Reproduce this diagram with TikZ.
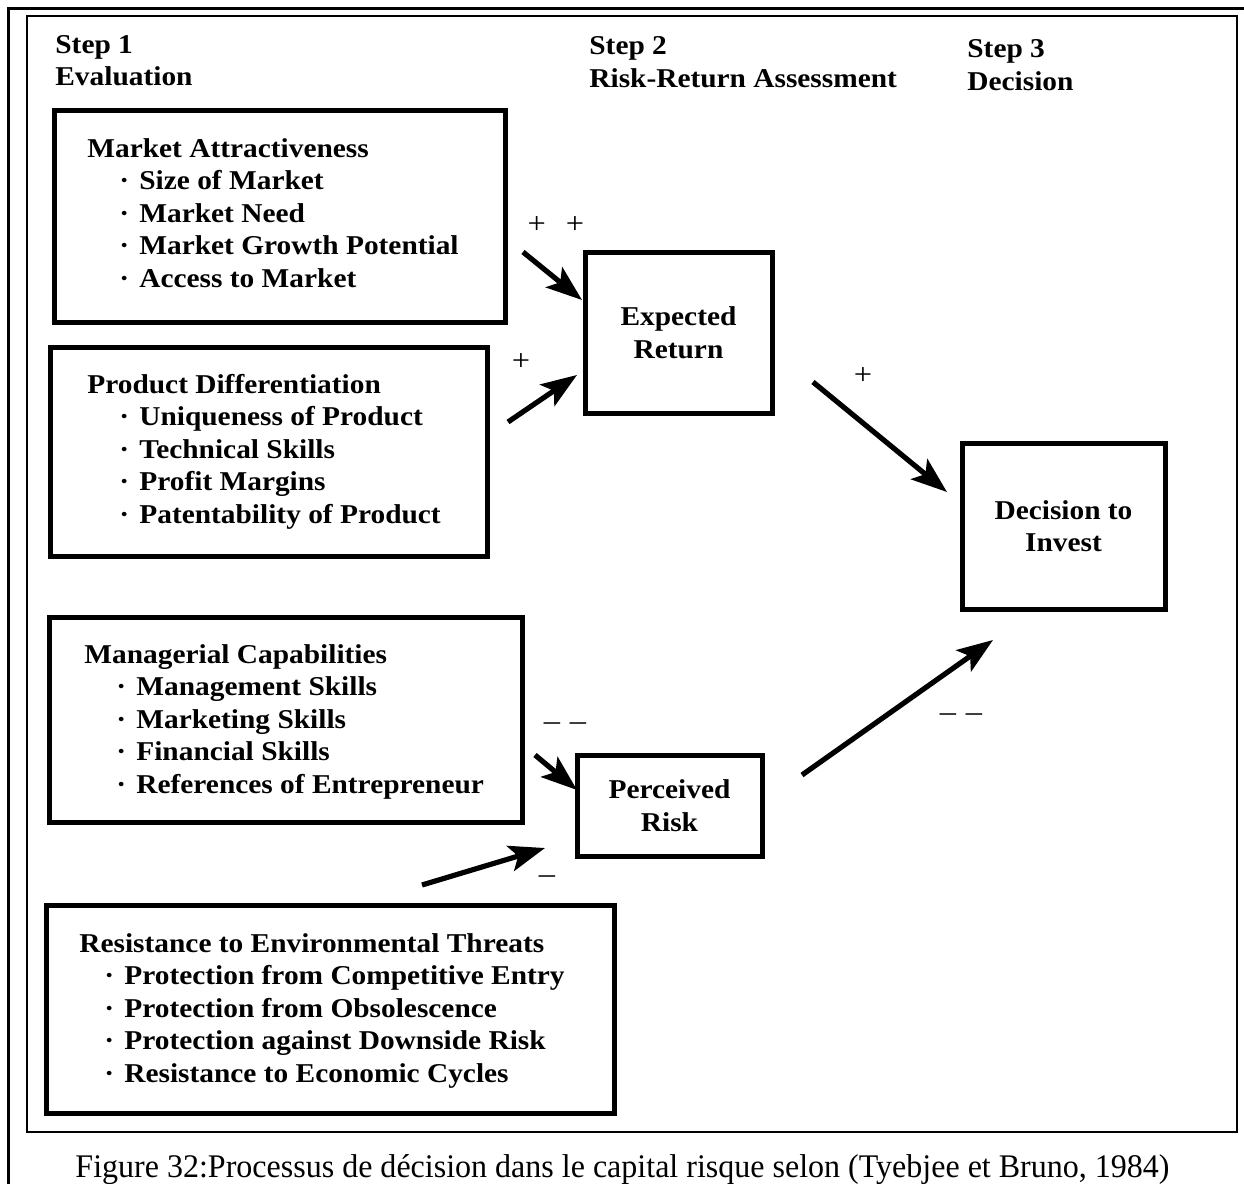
\documentclass[tikz,border=0pt]{standalone}
\usepackage{fontspec}
\usepackage{graphicx}
\setmainfont{Liberation Serif}
\newfontfamily\diagfont{Liberation Serif}[FakeStretch=1.08,Ligatures=TeX]
\usetikzlibrary{arrows.meta}
\newcommand\bul[1]{\hspace*{16pt}\makebox[10pt][l]{\textperiodcentered}#1}
\newcommand\bulr[1]{\hspace*{12.5pt}\makebox[10pt][l]{\textperiodcentered}#1}
\begin{document}
\begin{tikzpicture}[x=0.5pt,y=-0.5pt,
  boxs/.style={draw,line width=2.5pt,inner sep=0pt},
  lbl/.style={font=\diagfont\bfseries\fontsize{13.6}{16.25}\selectfont,inner sep=0pt},
  clbl/.style={boxs,align=center,font=\diagfont\bfseries\fontsize{13.6}{16.25}\selectfont},
  sign/.style={font=\diagfont\fontsize{15}{16}\selectfont,inner sep=0pt},
  arr/.style={line width=2.6pt,-{Stealth[length=18pt,width=13pt,inset=4pt]}}]
\useasboundingbox (0,0) rectangle (1244,1184);
\fill[white] (0,0) rectangle (1244,1184);
% frames
\draw[line width=1.5pt] (1244,8) -- (8,8) -- (8,1184);
\draw[line width=1.2pt] (27,16) rectangle (1237,1132);

% headers
\node[lbl,anchor=base west] (s1a) at (55,53) {Step 1};
\node[lbl,anchor=base west] (s1b) at (55,85) {Evaluation};
\node[lbl,anchor=base west] (s2a) at (589,54) {Step 2};
\node[lbl,anchor=base west] (s2b) at (589,87) {Risk-Return Assessment};
\node[lbl,anchor=base west] (s3a) at (967,57) {Step 3};
\node[lbl,anchor=base west] (s3b) at (967,90) {Decision};

% left boxes
\node[boxs,minimum width=225.5pt,minimum height=106pt] (ma) at (279.5,216) {};
\node[lbl,anchor=base west] (mat) at (87,157) {\begin{tabular}[t]{@{}l@{}}
Market Attractiveness\\
\bul{Size of Market}\\
\bul{Market Need}\\
\bul{Market Growth Potential}\\
\bul{Access to Market}
\end{tabular}};

\node[boxs,minimum width=218.5pt,minimum height=104.5pt] (pd) at (268.5,451.5) {};
\node[lbl,anchor=base west] (pdt) at (87,393) {\begin{tabular}[t]{@{}l@{}}
Product Differentiation\\
\bul{Uniqueness of Product}\\
\bul{Technical Skills}\\
\bul{Profit Margins}\\
\bul{Patentability of Product}
\end{tabular}};

\node[boxs,minimum width=236.5pt,minimum height=102.5pt] (mc) at (285.5,719.5) {};
\node[lbl,anchor=base west] (mct) at (84,663) {\begin{tabular}[t]{@{}l@{}}
Managerial Capabilities\\
\bul{Management Skills}\\
\bul{Marketing Skills}\\
\bul{Financial Skills}\\
\bul{References of Entrepreneur}
\end{tabular}};

\node[boxs,minimum width=284pt,minimum height=104pt] (re) at (330,1009) {};
\node[lbl,anchor=base west] (ret) at (79,952) {\begin{tabular}[t]{@{}l@{}}
Resistance to Environmental Threats\\
\bulr{Protection from Competitive Entry}\\
\bulr{Protection from Obsolescence}\\
\bulr{Protection against Downside Risk}\\
\bulr{Resistance to Economic Cycles}
\end{tabular}};

% middle and right boxes
\node[clbl,minimum width=93.5pt,minimum height=80.5pt] (er) at (678.5,332.5) {Expected\\Return};
\node[clbl,minimum width=92.5pt,minimum height=50.5pt] (pr) at (669.5,805.5) {Perceived\\Risk};
\node[clbl,minimum width=101.5pt,minimum height=83pt] (di) at (1063.5,526) {Decision to\\Invest};

% arrows
\coordinate (a1s) at (523,252); \coordinate (a1e) at (582,300);
\coordinate (a2s) at (508,422); \coordinate (a2e) at (577,375);
\coordinate (a3s) at (813,382); \coordinate (a3e) at (947,492);
\coordinate (a4s) at (802,775); \coordinate (a4e) at (993,640);
\coordinate (a5s) at (535,755); \coordinate (a5e) at (577,790);
\coordinate (a6s) at (422,885); \coordinate (a6e) at (545,848);
\draw[arr] (a1s) -- (a1e);
\draw[arr] (a2s) -- (a2e);
\draw[arr] (a3s) -- (a3e);
\draw[arr] (a4s) -- (a4e);
\draw[arr] (a5s) -- (a5e);
\draw[arr] (a6s) -- (a6e);

% signs
\node[sign] (p1) at (556,225) {+\hspace{10pt}+};
\node[sign] (p2) at (521,362) {+};
\node[sign] (p3) at (863,376) {+};
\node[sign] (m1) at (565,727) {\textendash\hspace{5pt}\textendash};
\node[sign] (m2) at (547,880) {\textendash};
\node[sign] (m3) at (961,718) {\textendash\hspace{5pt}\textendash};

% caption
\node[inner sep=0pt,anchor=base,font=\fontsize{16.5}{18}\selectfont] (cap) at (622.5,1177)
  {\resizebox{547pt}{\height}{Figure 32:Processus de décision dans le capital risque selon (Tyebjee et Bruno, 1984)}};
\end{tikzpicture}
\end{document}
